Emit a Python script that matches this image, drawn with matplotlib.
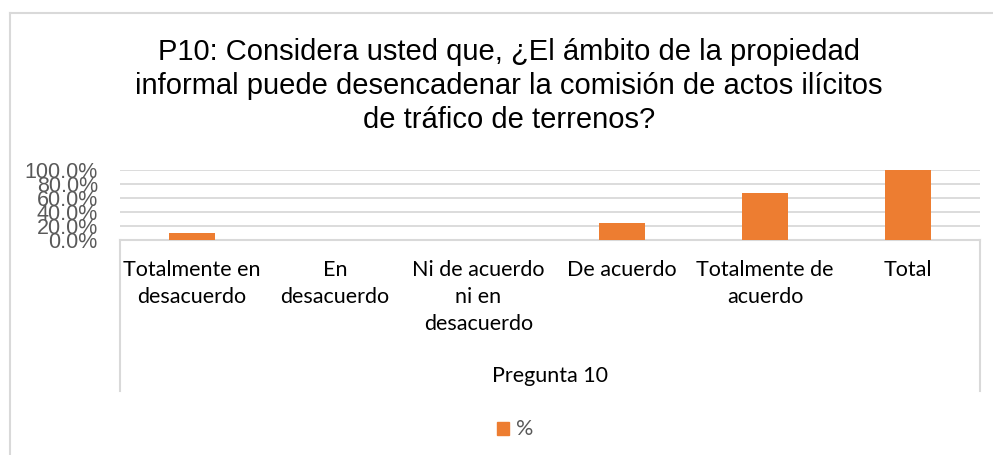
"""
Bar chart for P10 (Pregunta 10), drawn in the style of the spreadsheet export.
"""

import matplotlib
matplotlib.use("Agg")
import matplotlib.pyplot as plt
from matplotlib.lines import Line2D

categories = [
    "Totalmente en\ndesacuerdo",
    "En\ndesacuerdo",
    "Ni de acuerdo\nni en\ndesacuerdo",
    "De acuerdo",
    "Totalmente de\nacuerdo",
    "Total",
]
percent = [9.1, 0.0, 0.0, 24.2, 66.7, 100.0]
y_ticks = [0, 20, 40, 60, 80, 100]
group_label = "Pregunta 10"
series_name = "%"
title = ("P10: Considera usted que, ¿El ámbito de la propiedad\n"
         "informal puede desencadenar la comisión de actos ilícitos\n"
         "de tráfico de terrenos?")

W, H = 993, 456
ORANGE = "#ed7d31"
GRID = "#d9d9d9"
GRAY_TXT = "#595959"


def fx(px):
    return px / W


def fy(py):
    return 1 - py / H


fig = plt.figure(figsize=(W / 100, H / 100), dpi=100)

# outer chart frame (only top and left visible in the crop)
fig.add_artist(Line2D([fx(10), fx(10)], [fy(14), fy(H)], color=GRID, lw=1.5))
fig.add_artist(Line2D([fx(10), 1], [fy(14), fy(14)], color=GRID, lw=1.5))

fig.text(fx(509), fy(86), title, ha="center", va="center", fontsize=21,
         family="Liberation Sans", color="black", linespacing=1.28)

left, right, top, bottom = 120, 980, 170.5, 240.5
ax = fig.add_axes([fx(left), fy(bottom), fx(right - left), (bottom - top) / H])

x = range(len(categories))
ax.bar(x, percent, width=0.32, color=ORANGE, zorder=3)
ax.set_xlim(-0.5, len(categories) - 0.5)
ax.set_ylim(0, 100)

ax.set_yticks(y_ticks)
ax.set_yticklabels([f"{v:.1f}%" for v in y_ticks], family="Liberation Sans",
                   fontsize=15.5, color=GRAY_TXT)
ax.tick_params(axis="y", length=0, pad=16)
ax.grid(axis="y", color=GRID, lw=1.3, zorder=0)

ax.set_xticks(list(x))
ax.set_xticklabels(categories, family="Lato", fontsize=15.5, color="black",
                   linespacing=1.45, va="top")
ax.tick_params(axis="x", length=0, pad=14)

for side in ["left", "right", "top"]:
    ax.spines[side].set_visible(False)
ax.spines["bottom"].set_color(GRID)
ax.spines["bottom"].set_linewidth(1.5)

# multi-level category box
for px in (left, right):
    fig.add_artist(Line2D([fx(px), fx(px)], [fy(bottom), fy(392)], color=GRID, lw=1.5))
fig.text(fx((left + right) / 2), fy(376), group_label, ha="center", va="center",
         family="Lato", fontsize=15.5, color="black")

# legend
fig.add_artist(plt.Rectangle((fx(497), fy(436)), fx(12), 13 / H, color=ORANGE,
                             transform=fig.transFigure))
fig.text(fx(516), fy(429), series_name, ha="left", va="center", family="Lato",
         fontsize=15.5, color=GRAY_TXT)

fig.savefig("out.png", dpi=100)
plt.close(fig)
